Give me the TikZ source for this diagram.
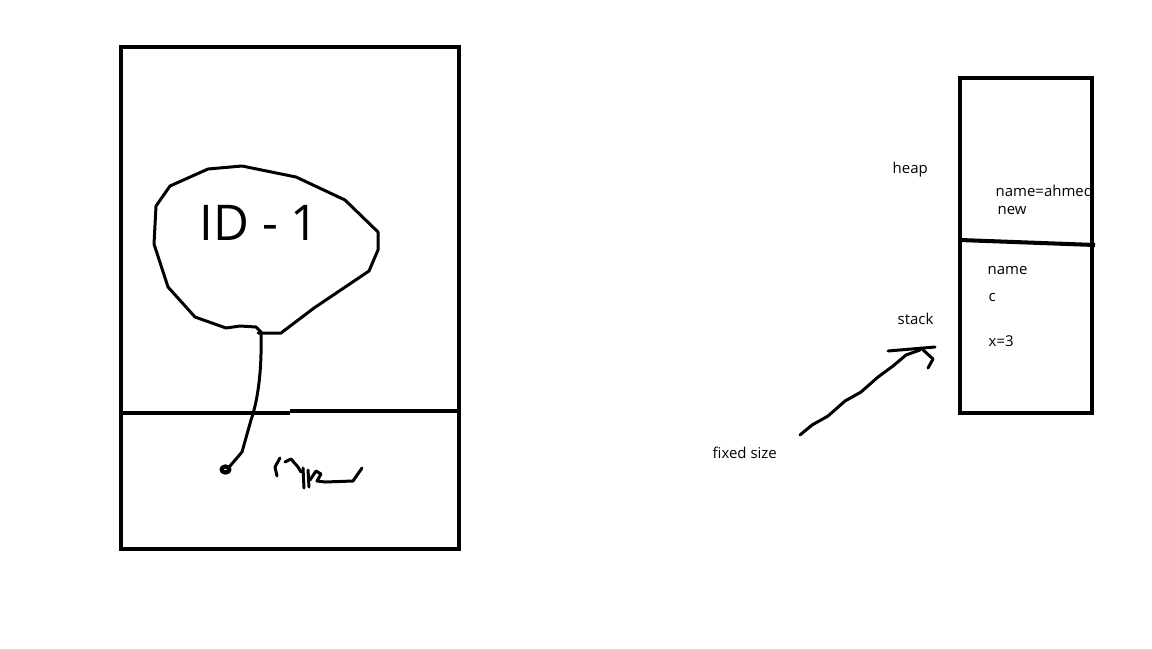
\documentclass[tikz,border=0pt]{standalone}
\usepackage{fontspec}
\setmainfont{Open Sans}

\begin{document}
\begin{tikzpicture}[x=0.01cm,y=-0.01cm,
    box/.style={line width=1.15pt},
    pen/.style={line width=0.85pt,line cap=round,line join=round},
    lbl/.style={anchor=base west,inner sep=0pt,text=labelCol,font=\fontsize{4.25}{5}\selectfont}]
            \definecolor{labelCol}{HTML}{000000}

            \fill[white] (0,0) rectangle (1152,648);
            \useasboundingbox (0,0) rectangle (1152,648);

            % left block
            \draw[box] (121,47) rectangle (459,549);
            \draw[box] (121,413) -- (290,413);
            \draw[box] (290,411) -- (459,411);

            % object blob
            \draw[pen] (261,332) -- (256,327) -- (240,326) -- (226,328) -- (195,317) -- (168,287) -- (154,244) -- (156,206) -- (170,186) -- (208,169) -- (242,166) -- (296,177) -- (345,200) -- (378,232) -- (378,250) -- (369,271) -- (314,308) -- (281,333) -- (258,333);
            \node[anchor=base west,inner sep=0pt,font=\fontsize{14}{16}\selectfont] (objid) at (199,240) {ID - 1};

            % reference to the object
            \coordinate (blobend) at (261,332);
            \coordinate (ptr) at (230,466);
            \draw[pen] (blobend) .. controls (262,370) and (258,400) .. (251,420) -- (242,452) -- (ptr);
            \draw[pen,line width=1.2pt] (225.5,469.5) ellipse (4 and 3);
            \draw[pen] (280,458) -- (275,467) -- (277,476);
            \draw[pen] (285,462) -- (291,459) -- (298,467) -- (301,472);
            \draw[pen] (303,468) -- (304,488);
            \draw[pen] (308,470) -- (309,487);
            \draw[pen] (310,480) -- (316,471) -- (321,474) -- (317,481) -- (325,482) -- (353,481) -- (362,468);

            % right block
            \node[lbl] (heap) at (892,173) {heap};
            \node[lbl] (stack) at (897,324) {stack};
            \node[lbl] (fixedsize) at (712,458) {fixed size};
            \begin{scope}
                \clip (960,78) rectangle (1092,240);
                \node[lbl] (nameval) at (995,196) {name=ahmed};
            \end{scope}
            \node[lbl] (newkw) at (997,214) {new};
            \node[lbl] (namevar) at (987,274) {name};
            \node[lbl] (cvar) at (988,301) {c};
            \node[lbl] (xvar) at (988,346) {x=3};
            \draw[box] (960,78) rectangle (1092,413);
            \draw[box] (960,240) -- (1095,245);

            % arrow to the stack
            \coordinate (fixedtail) at (800,435);
            \coordinate (stackhead) at (920,350);
            \draw[pen] (fixedtail) -- (812,425) -- (828,416) -- (845,401) -- (861,392) -- (878,377) -- (893,366) -- (906,355) -- (stackhead);
            \draw[pen] (888,351) -- (935,347);
            \draw[pen] (921,348) -- (933,359) -- (928,368);
        \end{tikzpicture}
\end{document}
